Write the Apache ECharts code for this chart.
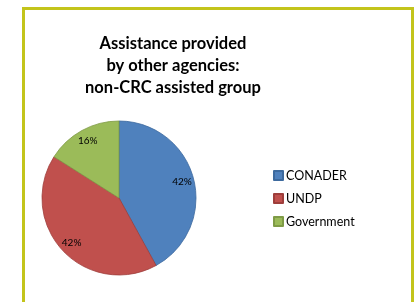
<!DOCTYPE html>
<html>
<head>
<meta charset="utf-8">
<script src="https://cdn.jsdelivr.net/npm/echarts@6/dist/echarts.min.js"></script>
<style>
  html, body { margin: 0; padding: 0; background: #fff; }
  #chart { width: 420px; height: 302px; }
</style>
</head>
<body>
<div id="chart"></div>
<script>
const agencies = ['CONADER', 'UNDP', 'Government'];
const shares = [42, 42, 16];
const colors = ['#4f81bd', '#c0504d', '#9bbb59'];
const borders = ['#3d6a9e', '#9e3e3b', '#7f9b46'];

const chart = echarts.init(document.getElementById('chart'));

const slices = agencies.map((name, i) => ({
  name,
  value: shares[i],
  itemStyle: { color: colors[i], borderColor: borders[i] }
}));

chart.setOption({
  animation: false,
  title: {
    text: 'Assistance provided\nby other agencies:\nnon-CRC assisted group',
    left: 168,
    top: 28,
    textAlign: 'center',
    textStyle: {
      fontFamily: 'Lato',
      fontWeight: 'bold',
      fontSize: 16.5,
      lineHeight: 22,
      color: '#000'
    }
  },
  legend: {
    orient: 'vertical',
    left: 268,
    top: 164,
    itemWidth: 9,
    itemHeight: 9,
    itemGap: 10,
    icon: 'rect',
    data: agencies,
    textStyle: { fontFamily: 'Lato', fontSize: 12.5, color: '#000', padding: [0, 0, 0, -2] }
  },
  graphic: [{
    type: 'rect',
    shape: { x: 23.5, y: 8.5, width: 389, height: 320 },
    style: { fill: 'none', stroke: '#c3c41b', lineWidth: 3 },
    silent: true
  }],
  series: [
    {
      type: 'pie',
      center: [119, 198],
      radius: 77,
      startAngle: 90,
      clockwise: true,
      itemStyle: { borderWidth: 0.8 },
      label: { show: false },
      labelLine: { show: false },
      emphasis: { disabled: true },
      data: slices
    },
    {
      // transparent copy used only to place the percentage labels nearer the rim
      type: 'pie',
      center: [119, 198],
      radius: 124,
      startAngle: 90,
      clockwise: true,
      silent: true,
      itemStyle: { color: 'transparent', borderWidth: 0 },
      label: {
        show: true,
        position: 'inside',
        formatter: '{c}%',
        fontFamily: 'Lato',
        fontSize: 10,
        color: '#000'
      },
      labelLine: { show: false },
      emphasis: { disabled: true },
      data: agencies.map((name, i) => ({ name, value: shares[i] }))
    }
  ]
});
</script>
</body>
</html>
